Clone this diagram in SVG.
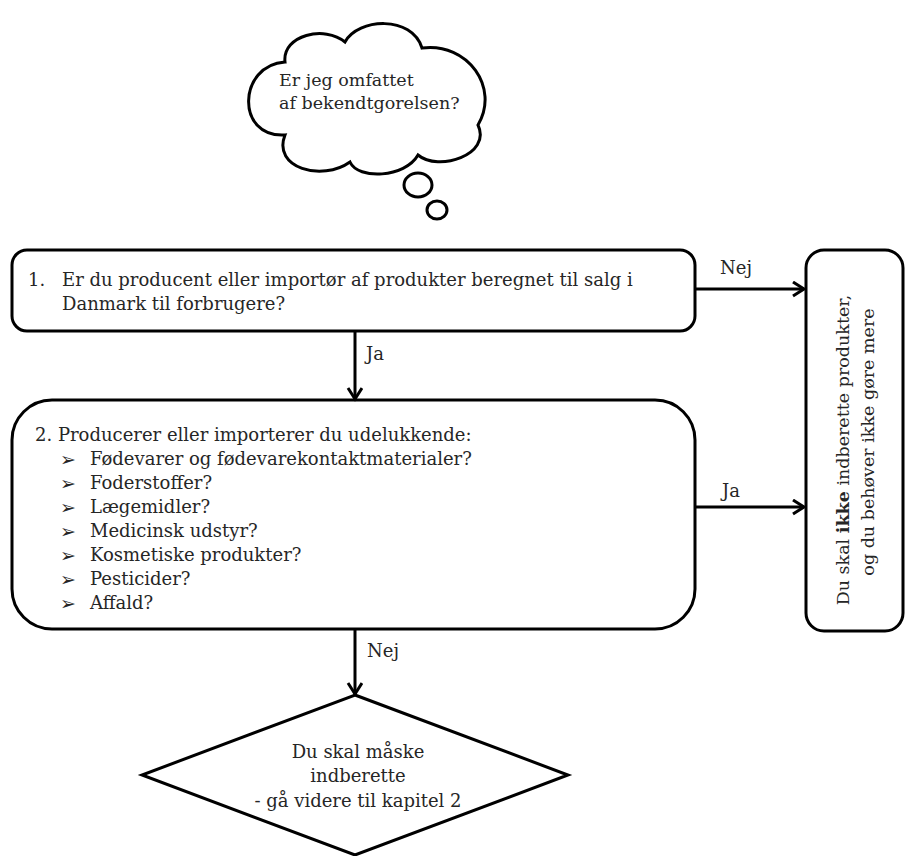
<svg xmlns="http://www.w3.org/2000/svg" width="905" height="856" viewBox="0 0 905 856">
<style>
.t{font-family:"DejaVu Serif","Liberation Serif",serif;font-size:18px;fill:#262626}
.c{font-size:17.5px}
.b{font-family:"DejaVu Sans","Noto Sans",sans-serif;font-size:19px;fill:#262626}
.shape{fill:#fff;stroke:#000;stroke-width:3}
.line{fill:none;stroke:#000;stroke-width:3}
</style>
<defs>
<marker id="arr" markerUnits="userSpaceOnUse" markerWidth="16" markerHeight="18" refX="12" refY="8" orient="auto">
<path d="M1,1 L12,8 L1,15" fill="none" stroke="#000" stroke-width="3"/>
</marker>
</defs>
<rect width="905" height="856" fill="#fff"/>
<g id="cloud">
<path class="shape" d="M285,62 C282,35 325,25 345,42 C358,18 412,15 422,48 C468,42 500,88 478,125 C492,155 438,172 418,155 C405,178 358,180 350,162 C322,182 272,168 285,135 C235,138 238,65 285,62 Z"/>
<ellipse class="shape" cx="418" cy="185" rx="14" ry="12"/>
<ellipse class="shape" cx="437" cy="210" rx="10" ry="9"/>
<text class="t c" x="279" y="86">Er jeg omfattet</text>
<text class="t c" x="279" y="109">af bekendtgorelsen?</text>
</g>
<g id="box1">
<rect class="shape" x="12" y="250" width="683" height="81" rx="15"/>
<text class="t" x="28" y="286">1.</text>
<text class="t" x="62" y="286">Er du producent eller importør af produkter beregnet til salg i</text>
<text class="t" x="62" y="310">Danmark til forbrugere?</text>
</g>
<g id="box2">
<rect class="shape" x="12" y="400" width="683" height="229" rx="40"/>
<text class="t" x="35" y="441">2. Producerer eller importerer du udelukkende:</text>
<text class="b" x="60" y="466">➢</text><text class="t" x="90" y="465">Fødevarer og fødevarekontaktmaterialer?</text>
<text class="b" x="60" y="490">➢</text><text class="t" x="90" y="489">Foderstoffer?</text>
<text class="b" x="60" y="514">➢</text><text class="t" x="90" y="513">Lægemidler?</text>
<text class="b" x="60" y="538">➢</text><text class="t" x="90" y="537">Medicinsk udstyr?</text>
<text class="b" x="60" y="562">➢</text><text class="t" x="90" y="561">Kosmetiske produkter?</text>
<text class="b" x="60" y="586">➢</text><text class="t" x="90" y="585">Pesticider?</text>
<text class="b" x="60" y="610">➢</text><text class="t" x="90" y="609">Affald?</text>
</g>
<g id="result-no">
<rect class="shape" x="806" y="250" width="97" height="381" rx="18"/>
<text class="t c" text-anchor="middle" transform="translate(849,450) rotate(-90)">Du skal <tspan font-weight="bold">ikke</tspan> indberette produkter,</text>
<text class="t c" text-anchor="middle" transform="translate(874,442) rotate(-90)">og du behøver ikke gøre mere</text>
</g>
<g id="diamond">
<path class="shape" d="M355,695 L568,775 L355,855 L142,775 Z"/>
<text class="t" text-anchor="middle" x="358" y="758">Du skal måske</text>
<text class="t" text-anchor="middle" x="358" y="782">indberette</text>
<text class="t" text-anchor="middle" x="358" y="807">- gå videre til kapitel 2</text>
</g>
<g id="connectors">
<line class="line" x1="695" y1="289" x2="804" y2="289" marker-end="url(#arr)"/>
<text class="t" x="720" y="274">Nej</text>
<line class="line" x1="695" y1="507" x2="804" y2="507" marker-end="url(#arr)"/>
<text class="t" x="722" y="497">Ja</text>
<line class="line" x1="355" y1="331" x2="355" y2="399" marker-end="url(#arr)"/>
<text class="t" x="366" y="360">Ja</text>
<line class="line" x1="355" y1="629" x2="355" y2="694" marker-end="url(#arr)"/>
<text class="t" x="367" y="657">Nej</text>
</g>
</svg>
